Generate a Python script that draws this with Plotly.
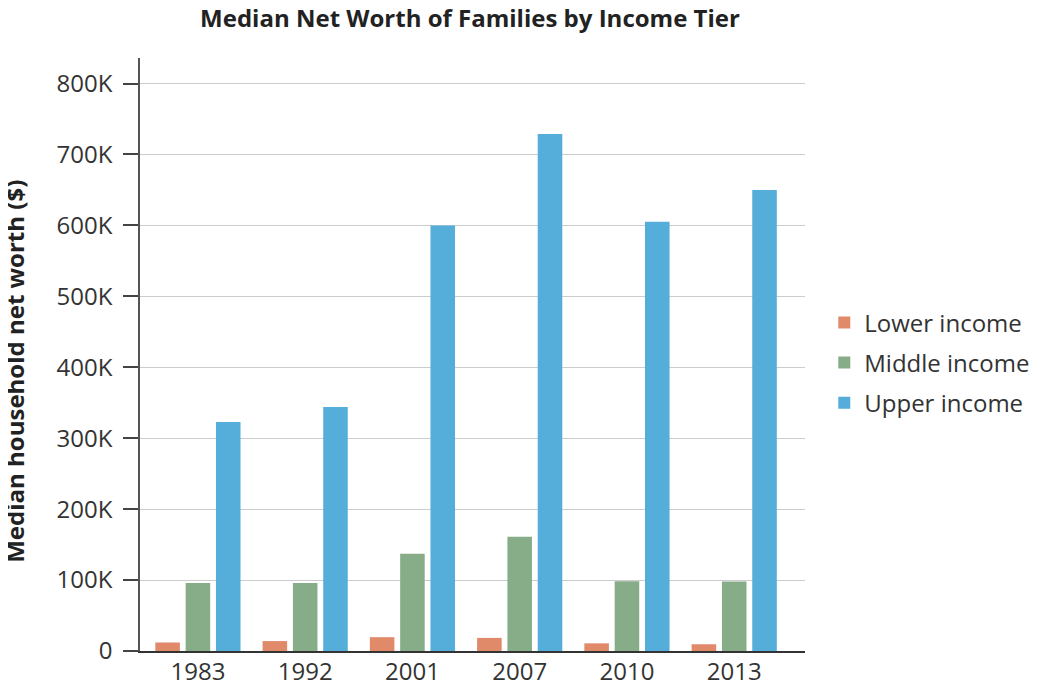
import plotly.graph_objects as go

years = ["1983", "1992", "2001", "2007", "2010", "2013"]
lower_income = [12000, 14000, 19500, 18500, 10800, 9500]
middle_income = [96000, 96000, 137000, 161000, 98500, 98000]
upper_income = [323000, 344000, 600000, 729000, 605000, 650000]
y_tick_vals = [0, 100000, 200000, 300000, 400000, 500000, 600000, 700000, 800000]
y_tick_text = ["0", "100K", "200K", "300K", "400K", "500K", "600K", "700K", "800K"]

series = [
    ("Lower income", lower_income, "#E08A6A"),
    ("Middle income", middle_income, "#86AD88"),
    ("Upper income", upper_income, "#55AEDA"),
]

fig = go.Figure()
for name, vals, color in series:
    fig.add_trace(go.Bar(x=years, y=vals, name=name, marker_color=color,
                         marker_line_width=0, legendgroup=name))

font_family = "Open Sans, Noto Sans, sans-serif"
fig.update_layout(
    width=1041, height=675,
    paper_bgcolor="white", plot_bgcolor="white",
    margin=dict(l=132, r=244, t=50, b=32, autoexpand=False),
    barmode="group", bargap=0.152, bargroupgap=0.19,
    font=dict(family=font_family, size=24, color="#333333"),
    title=dict(text="<b>Median Net Worth of Families by Income Tier</b>",
               x=462 / 1041, xanchor="center", y=0.985, yanchor="middle",
               font=dict(size=24, color="#222222")),
    legend=dict(x=1.029, y=0.486, xanchor="left", yanchor="middle",
                font=dict(size=24, color="#333333"),
                tracegroupgap=6),
    showlegend=True,
    annotations=[dict(text="<b>Median household net worth ($)</b>",
                      xref="paper", yref="paper", x=-0.19, y=0.472,
                      xanchor="center", yanchor="middle", textangle=-90,
                      showarrow=False, font=dict(size=24, color="#222222"))],
)
fig.update_xaxes(type="category", range=[-0.54, 5.66],
                 showline=True, linecolor="#333333", linewidth=2,
                 ticks="", tickfont=dict(size=24, color="#333333"), showgrid=False,
                 automargin=False, ticklabelstandoff=-2)
fig.update_yaxes(range=[0, 836000], tickvals=y_tick_vals, ticktext=y_tick_text,
                 showline=True, linecolor="#555555", linewidth=1.5,
                 ticks="outside", ticklen=15, tickcolor="#444444", tickwidth=1.5,
                 gridcolor="#CCCCCC", gridwidth=1.2, zeroline=False,
                 tickfont=dict(size=24, color="#333333"), automargin=False,
                 ticklabelstandoff=6)

fig.write_html("out.html")
